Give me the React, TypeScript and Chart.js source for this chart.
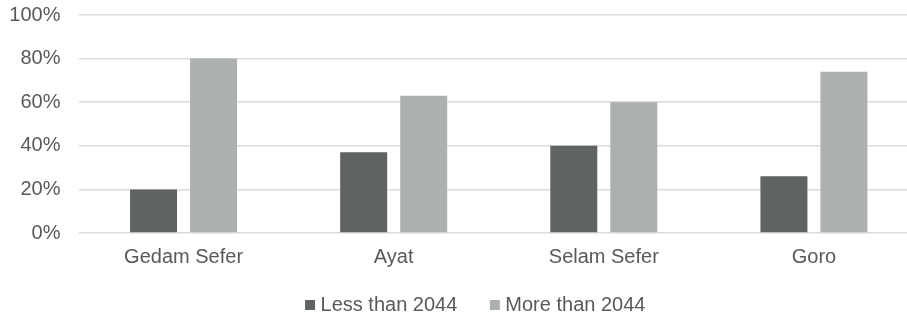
import React, { useEffect, useRef } from "react";
import { Chart, registerables } from "chart.js";

Chart.register(...registerables);

const categories = ["Gedam Sefer", "Ayat", "Selam Sefer", "Goro"];
const lessThan2044 = [20, 37, 40, 26];
const moreThan2044 = [80, 63, 60, 74];
const seriesNames = ["Less than 2044", "More than 2044"];

const FONT = "'Liberation Sans', Arial, Helvetica, sans-serif";
const TEXT = "#595959";

const legendShift = {
  id: "legendShift",
  afterLayout(chart: any) {
    const lg = chart.legend;
    if (!lg) return;
    lg.left += 18;
    lg.right += 18;
    lg.top -= 10;
  },
};

export default function App() {
  const ref = useRef<HTMLCanvasElement | null>(null);

  useEffect(() => {
    if (!ref.current) return;
    const chart = new Chart(ref.current, {
      type: "bar",
      data: {
        labels: categories,
        datasets: [
          {
            label: seriesNames[0],
            data: lessThan2044,
            backgroundColor: "#5f6363",
            categoryPercentage: 0.5714,
            barPercentage: 0.783,
          },
          {
            label: seriesNames[1],
            data: moreThan2044,
            backgroundColor: "#adb0b0",
            categoryPercentage: 0.5714,
            barPercentage: 0.783,
          },
        ],
      },
      plugins: [legendShift],
      options: {
        responsive: false,
        animation: false,
        layout: { padding: { left: 0, top: 0, right: 0, bottom: 0 } },
        plugins: {
          tooltip: { enabled: false },
          legend: {
            position: "bottom",
            maxHeight: 52,
            labels: {
              usePointStyle: true,
              pointStyle: "rect",
              boxWidth: 1,
              boxHeight: 10,
              padding: 37,
              color: TEXT,
              font: { family: FONT, size: 20 },
            },
          },
        },
        scales: {
          x: {
            grid: { display: false, drawTicks: false },
            border: { display: false },
            ticks: {
              color: TEXT,
              font: { family: FONT, size: 20 },
              padding: 12,
              maxRotation: 0,
            },
            afterFit: (scale: any) => {
              scale.height = 35;
            },
          },
          y: {
            min: 0,
            max: 100,
            grid: { color: "#dcdcdc", lineWidth: 1.5, drawTicks: false },
            border: { display: false },
            ticks: {
              stepSize: 20,
              color: TEXT,
              font: { family: FONT, size: 20 },
              padding: 18,
              callback: (v: any) => v + "%",
            },
            afterFit: (scale: any) => {
              scale.width = 78.5;
              scale.paddingTop = 15;
              scale.paddingBottom = 12;
            },
          },
        },
      },
    });
    return () => chart.destroy();
  }, []);

  return (
    <div
      style={{
        position: "fixed",
        left: 0,
        top: 0,
        width: 907,
        height: 320,
        overflow: "hidden",
        background: "#fff",
      }}
    >
      <canvas ref={ref} width={919} height={320} style={{ display: "block" }} />
    </div>
  );
}
